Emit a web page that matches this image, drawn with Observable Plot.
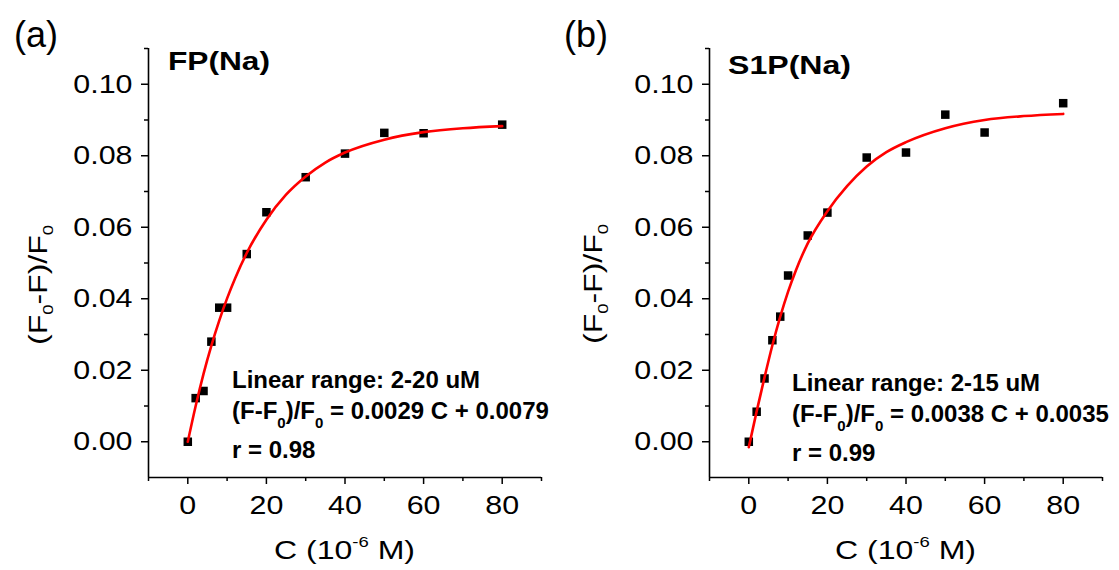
<!DOCTYPE html>
<html><head><meta charset="utf-8">
<script src="https://cdn.jsdelivr.net/npm/d3@7"></script>
<script src="https://cdn.jsdelivr.net/npm/@observablehq/plot@0.6"></script>
<style>
html,body{margin:0;padding:0;background:#fff;}
#wrap{position:relative;width:1119px;height:570px;overflow:hidden;background:#fff;}
.panel{position:absolute;top:0;}
</style></head><body><div id="wrap"></div>
<script>
// ---- data ----
const conc = [0, 2, 4, 6, 8, 10, 15, 20, 30, 40, 50, 60, 80];
const respFP = [0, 0.0122, 0.0142, 0.0280, 0.0375, 0.0375, 0.0525, 0.0642, 0.0740, 0.0806, 0.0864, 0.0863, 0.0887];
const respS1P = [0, 0.0084, 0.0177, 0.0284, 0.0350, 0.0465, 0.0577, 0.0641, 0.0795, 0.0809, 0.0915, 0.0865, 0.0947];

// fitted (red) curves
const fitXFP = [0, 2, 4, 6, 8, 10, 12, 15, 20, 25, 30, 35, 40, 50, 60, 70, 80];
const fitYFP = [0, 0.0100, 0.0190, 0.0269, 0.0339, 0.0401, 0.0456, 0.0528, 0.0621, 0.0691, 0.0742, 0.0781, 0.0809, 0.0845, 0.0866, 0.0877, 0.0883];
const fitXS1P = [0, 2, 4, 6, 8, 10, 12, 15, 20, 25, 30, 35, 40, 50, 60, 70, 80];
const fitYS1P = [-0.0015, 0.0085, 0.0180, 0.0270, 0.0350, 0.0420, 0.0480, 0.0555, 0.0645, 0.0715, 0.0770, 0.0810, 0.0838, 0.0877, 0.0900, 0.0911, 0.0917];

// ticks
const xMajorTicks = [0, 20, 40, 60, 80];
const xMinorTicks = [-10, 10, 30, 50, 70, 90];
const yMajorTicks = [0, 0.02, 0.04, 0.06, 0.08, 0.10];
const yMinorTicks = [0.01, 0.03, 0.05, 0.07, 0.09, 0.11];
const xDomain = [-10, 90];
const yDomain = [-0.01, 0.11];

// panel texts
const panelTags = ["(a)", "(b)"];
const panelTitles = ["FP(Na)", "S1P(Na)"];
const rangeTexts = ["Linear range: 2-20 uM", "Linear range: 2-15 uM"];
const eqTexts = [" = 0.0029 C + 0.0079", " = 0.0038 C + 0.0035"];
const rTexts = ["r = 0.98", "r = 0.99"];

const FONT = "'Liberation Sans', Arial, Helvetica, sans-serif";

const panels = [
  {left: 0, width: 560, mL: 148, mR: 19, pts: conc.map((c, i) => ({x: c, y: respFP[i]})),
   fit: fitXFP.map((c, i) => ({x: c, y: fitYFP[i]})),
   tag: {x: 14, y: 47}, title: {x: 168, y: 70, w: 102}, ann: {x: 232, y: [388, 419, 458]},
   ylab: {x: 47, y: 285}, xlab: {x: 344.5, y: 559}},
  {left: 560, width: 559, mL: 149, mR: 17, pts: conc.map((c, i) => ({x: c, y: respS1P[i]})),
   fit: fitXS1P.map((c, i) => ({x: c, y: fitYS1P[i]})),
   tag: {x: 4, y: 47}, title: {x: 168, y: 74, w: 123}, ann: {x: 232, y: [391, 422, 461]},
   ylab: {x: 42, y: 284}, xlab: {x: 345.5, y: 559}}
];

function stretch(node, k) {
  const w = node.getComputedTextLength();
  node.setAttribute("textLength", w * k);
  node.setAttribute("lengthAdjust", "spacingAndGlyphs");
}
function fit(node, target) {
  node.setAttribute("textLength", target);
  node.setAttribute("lengthAdjust", "spacingAndGlyphs");
}

const wrap = document.getElementById("wrap");
panels.forEach((p, idx) => {
  const svg = Plot.plot({
    width: p.width, height: 570,
    marginLeft: p.mL, marginRight: p.mR, marginTop: 48, marginBottom: 93,
    style: {fontFamily: FONT, fontSize: "26px", color: "black", background: "white", overflow: "visible"},
    x: {domain: xDomain, axis: null},
    y: {domain: yDomain, axis: null},
    marks: [
      Plot.ruleY([yDomain[0]], {stroke: "black", strokeWidth: 1.6}),
      Plot.ruleX([xDomain[0]], {stroke: "black", strokeWidth: 1.6}),
      Plot.axisX({ticks: xMinorTicks, tickSize: 4, text: null, label: null, strokeWidth: 1.5}),
      Plot.axisX({ticks: xMajorTicks, tickSize: 7, tickPadding: 11, tickFormat: d => String(d), label: null, strokeWidth: 1.5, fontSize: 26}),
      Plot.axisY({ticks: yMinorTicks, tickSize: 4, text: null, label: null, strokeWidth: 1.5}),
      Plot.axisY({ticks: yMajorTicks, tickSize: 7, tickPadding: 9, tickFormat: d3.format(".2f"), label: null, strokeWidth: 1.5, fontSize: 26}),
      Plot.dot(p.pts, {x: "x", y: "y", symbol: "square", fill: "black", r: 4.8}),
      Plot.line(p.fit, {x: "x", y: "y", stroke: "#ff0000", strokeWidth: 2.6, curve: "monotone-x"})
    ]
  });
  const holder = document.createElement("div");
  holder.className = "panel";
  holder.style.left = p.left + "px";
  holder.appendChild(svg);
  wrap.appendChild(holder);

  // stretch tick labels a bit (reference glyphs are wider than Arial)
  svg.querySelectorAll('g[aria-label$="tick label"] text').forEach(t => stretch(t, 1.17));

  const s = d3.select(svg);
  // panel tag
  s.append("text").attr("x", p.tag.x).attr("y", p.tag.y).attr("text-anchor", "start")
    .attr("font-family", FONT).attr("font-size", 36).attr("fill", "black").text(panelTags[idx]);
  // title
  const ttl = s.append("text").attr("x", p.title.x).attr("y", p.title.y).attr("text-anchor", "start")
    .attr("font-family", FONT).attr("font-size", 26).attr("font-weight", "bold").attr("fill", "black")
    .text(panelTitles[idx]);
  fit(ttl.node(), p.title.w);
  // annotation
  const ann = s.append("g").attr("text-anchor", "start").attr("font-family", FONT).attr("font-size", 24)
    .attr("font-weight", "bold").attr("fill", "black");
  ann.append("text").attr("x", p.ann.x).attr("y", p.ann.y[0]).text(rangeTexts[idx]);
  const eq = ann.append("text").attr("x", p.ann.x).attr("y", p.ann.y[1]);
  eq.append("tspan").text("(F-F");
  eq.append("tspan").attr("font-size", 15).attr("dy", 9).text("0");
  eq.append("tspan").attr("dy", -9).text(")/F");
  eq.append("tspan").attr("font-size", 15).attr("dy", 9).text("0");
  eq.append("tspan").attr("dy", -9).text(eqTexts[idx]);
  ann.append("text").attr("x", p.ann.x).attr("y", p.ann.y[2]).text(rTexts[idx]);
  // y label
  const yl = s.append("text").attr("transform", `translate(${p.ylab.x},${p.ylab.y}) rotate(-90)`)
    .attr("text-anchor", "middle").attr("font-family", FONT).attr("font-size", 26).attr("fill", "black");
  yl.append("tspan").text("(F");
  yl.append("tspan").attr("font-size", 15).attr("dy", 6).text("0");
  yl.append("tspan").attr("dy", -6).text("-F)/F");
  yl.append("tspan").attr("font-size", 15).attr("dy", 6).text("0");
  fit(yl.node(), 120);
  // x label
  const xl = s.append("text").attr("x", p.xlab.x).attr("y", p.xlab.y)
    .attr("text-anchor", "middle").attr("font-family", FONT).attr("font-size", 26).attr("fill", "black");
  xl.append("tspan").text("C (10");
  xl.append("tspan").attr("font-size", 15).attr("dy", -12).text("-6");
  xl.append("tspan").attr("dy", 12).text(" M)");
  fit(xl.node(), 141);
});
</script>
</body></html>
